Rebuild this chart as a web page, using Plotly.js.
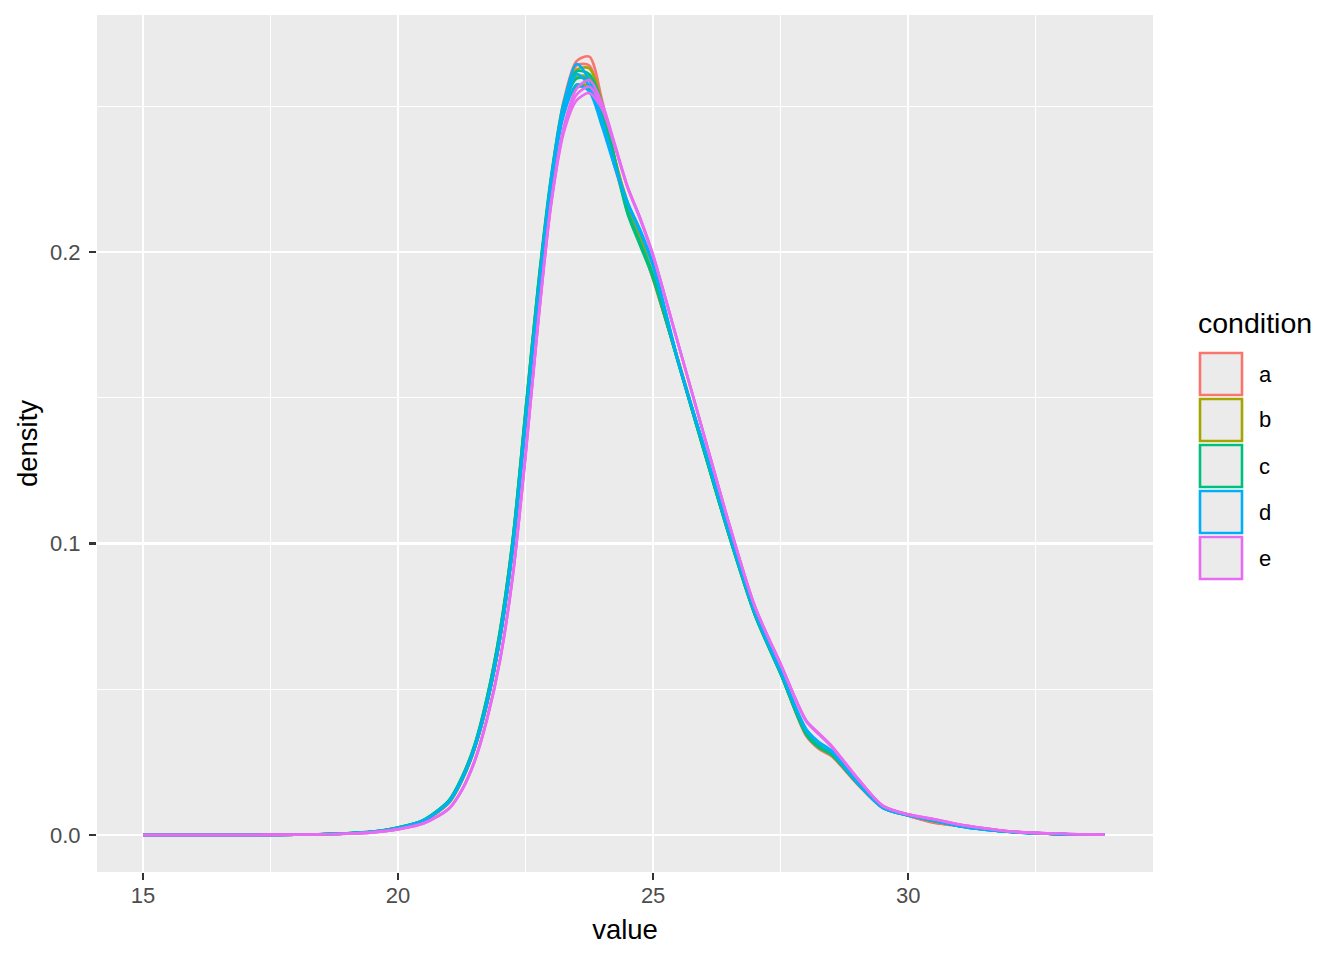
<!DOCTYPE html>
<html>
<head>
<meta charset="utf-8">
<script src="https://cdn.plot.ly/plotly-3.0.1.min.js"></script>
<style>html,body{margin:0;padding:0;background:#fff;}#chart{width:1344px;height:960px;}</style>
</head>
<body>
<div id="chart"></div>
<script>
// Shared evaluation grid (value)
const xs = [15,17,18,19,19.5,20,20.5,21,21.25,21.5,21.75,22,22.25,22.5,22.75,23,23.25,23.5,23.75,24,24.25,24.5,24.75,25,25.5,26,26.5,27,27.5,28,28.25,28.5,29,29.5,30,30.5,31,31.5,32,33,33.85];

// condition a (replicates)
const a1 = [0,0,0.0001,0.0005,0.0011,0.0024,0.0049,0.0113,0.0188,0.0298,0.0458,0.0678,0.0990,0.1425,0.1870,0.2250,0.2520,0.2655,0.2670,0.2520,0.2320,0.2160,0.2040,0.1910,0.1620,0.1320,0.1025,0.0755,0.0555,0.0340,0.0295,0.0270,0.0175,0.0093,0.0066,0.0042,0.0031,0.0020,0.0011,0.0003,0.0001];
const a2 = [0,0,0.0001,0.0005,0.0011,0.0024,0.0049,0.0112,0.0187,0.0297,0.0456,0.0676,0.0988,0.1420,0.1865,0.2240,0.2510,0.2640,0.2640,0.2500,0.2300,0.2150,0.2035,0.1905,0.1620,0.1320,0.1025,0.0757,0.0557,0.0345,0.0298,0.0272,0.0177,0.0094,0.0067,0.0043,0.0032,0.0020,0.0011,0.0003,0.0001];
const a3 = [0,0,0.0001,0.0005,0.0011,0.0024,0.0048,0.0111,0.0186,0.0295,0.0454,0.0673,0.0985,0.1415,0.1860,0.2230,0.2490,0.2600,0.2590,0.2475,0.2290,0.2150,0.2040,0.1910,0.1625,0.1322,0.1028,0.0758,0.0558,0.0348,0.0300,0.0274,0.0178,0.0095,0.0067,0.0044,0.0032,0.0020,0.0011,0.0003,0.0001];

// condition b
const b1 = [0,0,0.0001,0.0005,0.0011,0.0024,0.0049,0.0113,0.0188,0.0298,0.0457,0.0677,0.0989,0.1423,0.1868,0.2235,0.2505,0.2625,0.2630,0.2510,0.2320,0.2170,0.2050,0.1920,0.1625,0.1322,0.1027,0.0757,0.0557,0.0345,0.0300,0.0274,0.0180,0.0097,0.0070,0.0050,0.0034,0.0021,0.0011,0.0003,0.0001];
const b2 = [0,0,0.0001,0.0005,0.0011,0.0024,0.0049,0.0112,0.0187,0.0297,0.0456,0.0675,0.0987,0.1420,0.1864,0.2230,0.2495,0.2600,0.2600,0.2490,0.2310,0.2165,0.2045,0.1915,0.1622,0.1321,0.1026,0.0757,0.0557,0.0348,0.0302,0.0276,0.0181,0.0097,0.0070,0.0050,0.0034,0.0021,0.0011,0.0003,0.0001];
const b3 = [0,0,0.0001,0.0005,0.0011,0.0024,0.0048,0.0111,0.0186,0.0295,0.0454,0.0673,0.0984,0.1416,0.1860,0.2225,0.2480,0.2570,0.2570,0.2470,0.2300,0.2160,0.2040,0.1910,0.1620,0.1320,0.1026,0.0757,0.0558,0.0350,0.0304,0.0278,0.0182,0.0098,0.0070,0.0050,0.0034,0.0021,0.0011,0.0003,0.0001];

// condition c
const c1 = [0,0,0.0001,0.0006,0.0012,0.0026,0.0052,0.0120,0.0198,0.0310,0.0478,0.0705,0.1020,0.1460,0.1895,0.2260,0.2515,0.2620,0.2610,0.2510,0.2320,0.2140,0.2030,0.1920,0.1615,0.1315,0.1020,0.0752,0.0552,0.0345,0.0300,0.0275,0.0178,0.0095,0.0070,0.0048,0.0032,0.0020,0.0011,0.0003,0.0001];
const c2 = [0,0,0.0001,0.0006,0.0012,0.0026,0.0052,0.0119,0.0197,0.0308,0.0476,0.0702,0.1017,0.1455,0.1890,0.2250,0.2500,0.2595,0.2590,0.2495,0.2315,0.2135,0.2025,0.1915,0.1615,0.1316,0.1021,0.0753,0.0553,0.0347,0.0302,0.0277,0.0179,0.0095,0.0069,0.0048,0.0032,0.0020,0.0011,0.0003,0.0001];
const c3 = [0,0,0.0001,0.0006,0.0012,0.0026,0.0051,0.0118,0.0196,0.0306,0.0473,0.0698,0.1013,0.1450,0.1884,0.2240,0.2485,0.2565,0.2560,0.2475,0.2305,0.2130,0.2020,0.1910,0.1615,0.1317,0.1022,0.0754,0.0554,0.0350,0.0305,0.0279,0.0180,0.0096,0.0069,0.0048,0.0032,0.0020,0.0011,0.0003,0.0001];

// condition d
const d1 = [0,0,0.0001,0.0005,0.0011,0.0024,0.0050,0.0115,0.0190,0.0300,0.0460,0.0680,0.0990,0.1420,0.1860,0.2250,0.2510,0.2645,0.2590,0.2450,0.2300,0.2170,0.2075,0.1960,0.1620,0.1330,0.1030,0.0760,0.0560,0.0360,0.0315,0.0285,0.0180,0.0093,0.0067,0.0050,0.0030,0.0018,0.0010,0.0003,0.0001];
const d2 = [0,0,0.0001,0.0005,0.0011,0.0024,0.0050,0.0114,0.0189,0.0299,0.0458,0.0678,0.0988,0.1417,0.1856,0.2240,0.2490,0.2610,0.2570,0.2440,0.2295,0.2170,0.2070,0.1955,0.1620,0.1330,0.1031,0.0761,0.0561,0.0362,0.0317,0.0287,0.0181,0.0093,0.0067,0.0050,0.0030,0.0018,0.0010,0.0003,0.0001];
const d3 = [0,0,0.0001,0.0005,0.0011,0.0024,0.0049,0.0113,0.0188,0.0297,0.0456,0.0675,0.0984,0.1413,0.1852,0.2230,0.2470,0.2575,0.2550,0.2430,0.2290,0.2165,0.2065,0.1950,0.1620,0.1331,0.1032,0.0762,0.0562,0.0364,0.0319,0.0289,0.0182,0.0094,0.0067,0.0050,0.0030,0.0018,0.0010,0.0003,0.0001];

// condition e
const e1 = [0,0,0.0001,0.0004,0.0009,0.0020,0.0040,0.0092,0.0155,0.0255,0.0405,0.0605,0.0895,0.1310,0.1770,0.2170,0.2430,0.2560,0.2590,0.2510,0.2370,0.2225,0.2115,0.1990,0.1680,0.1370,0.1060,0.0780,0.0585,0.0390,0.0345,0.0302,0.0195,0.0100,0.0070,0.0054,0.0036,0.0023,0.0012,0.0004,0.0001];
const e2 = [0,0,0.0001,0.0004,0.0009,0.0020,0.0040,0.0091,0.0154,0.0253,0.0402,0.0602,0.0891,0.1305,0.1765,0.2165,0.2420,0.2540,0.2567,0.2500,0.2365,0.2222,0.2113,0.1988,0.1680,0.1370,0.1062,0.0782,0.0586,0.0392,0.0347,0.0304,0.0196,0.0101,0.0070,0.0054,0.0036,0.0023,0.0012,0.0004,0.0001];
const e3 = [0,0,0.0001,0.0004,0.0009,0.0019,0.0039,0.0090,0.0152,0.0250,0.0399,0.0598,0.0887,0.1300,0.1760,0.2160,0.2410,0.2520,0.2545,0.2490,0.2360,0.2220,0.2110,0.1985,0.1680,0.1371,0.1063,0.0783,0.0587,0.0394,0.0349,0.0306,0.0197,0.0101,0.0071,0.0055,0.0036,0.0023,0.0012,0.0004,0.0001];

const conditions = ['a','b','c','d','e'];
const colors = ['#F8766D','#A3A500','#00BF7D','#00B0F6','#E76BF3'];
const replicates = [[a1,a2,a3],[b1,b2,b3],[c1,c2,c3],[d1,d2,d3],[e1,e2,e3]];
const xTicks = [15,20,25,30];
const yTicks = [0,0.1,0.2];
const yTickText = ['0.0','0.1','0.2'];

const traces = [];
conditions.forEach((cond, i) => {
  replicates[i].forEach((ys, j) => {
    traces.push({
      type: 'scatter', mode: 'lines', x: xs, y: ys,
      name: cond, legendgroup: cond, showlegend: false,
      line: {color: colors[i], width: 2.6, shape: 'spline', smoothing: 0.8},
      hoverinfo: 'skip'
    });
  });
});

// plot area in pixels
const L = 97, R = 1153, T = 15, B = 872;
const px = p => (p - L) / (R - L);
const py = p => (B - p) / (B - T);
const FONT = 'Liberation Sans, Arial, sans-serif';

const shapes = [];
const annotations = [];
annotations.push({xref:'paper', yref:'paper', x: px(1196), y: py(323), xanchor:'left', yanchor:'middle',
  text:'condition', showarrow:false, font:{family: FONT, size:28.5, color:'#000'}});
conditions.forEach((cond, i) => {
  const top = 353 + i * 46;
  shapes.push({type:'rect', xref:'paper', yref:'paper', x0: px(1200), x1: px(1242), y0: py(top + 42), y1: py(top),
    fillcolor:'#EBEBEB', line:{color: colors[i], width: 2.6}});
  annotations.push({xref:'paper', yref:'paper', x: px(1257), y: py(top + 21), xanchor:'left', yanchor:'middle',
    text: cond, showarrow:false, font:{family: FONT, size:22, color:'#000'}});
});

const layout = {
  width: 1344, height: 960,
  margin: {l: L, r: 1344 - R, t: T, b: 960 - B, pad: 0},
  paper_bgcolor: '#FFFFFF', plot_bgcolor: '#EBEBEB',
  showlegend: false,
  font: {family: FONT},
  xaxis: {
    range: [14.098, 34.80], tickvals: xTicks, ticktext: xTicks.map(String),
    ticks: 'outside', ticklen: 7, tickwidth: 2.6, tickcolor: '#333333',
    tickfont: {size: 22, color: '#4D4D4D'}, ticklabelstandoff: -3,
    showgrid: true, gridcolor: '#FFFFFF', gridwidth: 2.6,
    minor: {dtick: 2.5, tick0: 15, showgrid: true, gridcolor: '#FFFFFF', gridwidth: 1.3, ticks: ''},
    zeroline: false, showline: false, automargin: false,
    title: {text: 'value', font: {size: 27.5, color: '#000'}, standoff: 12}
  },
  yaxis: {
    range: [-0.0127, 0.2813], tickvals: yTicks, ticktext: yTickText,
    ticks: 'outside', ticklen: 7, tickwidth: 2.6, tickcolor: '#333333',
    tickfont: {size: 22, color: '#4D4D4D'}, ticklabelstandoff: 4,
    showgrid: true, gridcolor: '#FFFFFF', gridwidth: 2.6,
    minor: {dtick: 0.05, tick0: 0, showgrid: true, gridcolor: '#FFFFFF', gridwidth: 1.3, ticks: ''},
    zeroline: false, showline: false, automargin: false,
    title: {text: 'density', font: {size: 27.5, color: '#000'}, standoff: 4}
  },
  shapes: shapes,
  annotations: annotations
};

Plotly.newPlot('chart', traces, layout, {displayModeBar: false, staticPlot: true});
</script>
</body>
</html>
